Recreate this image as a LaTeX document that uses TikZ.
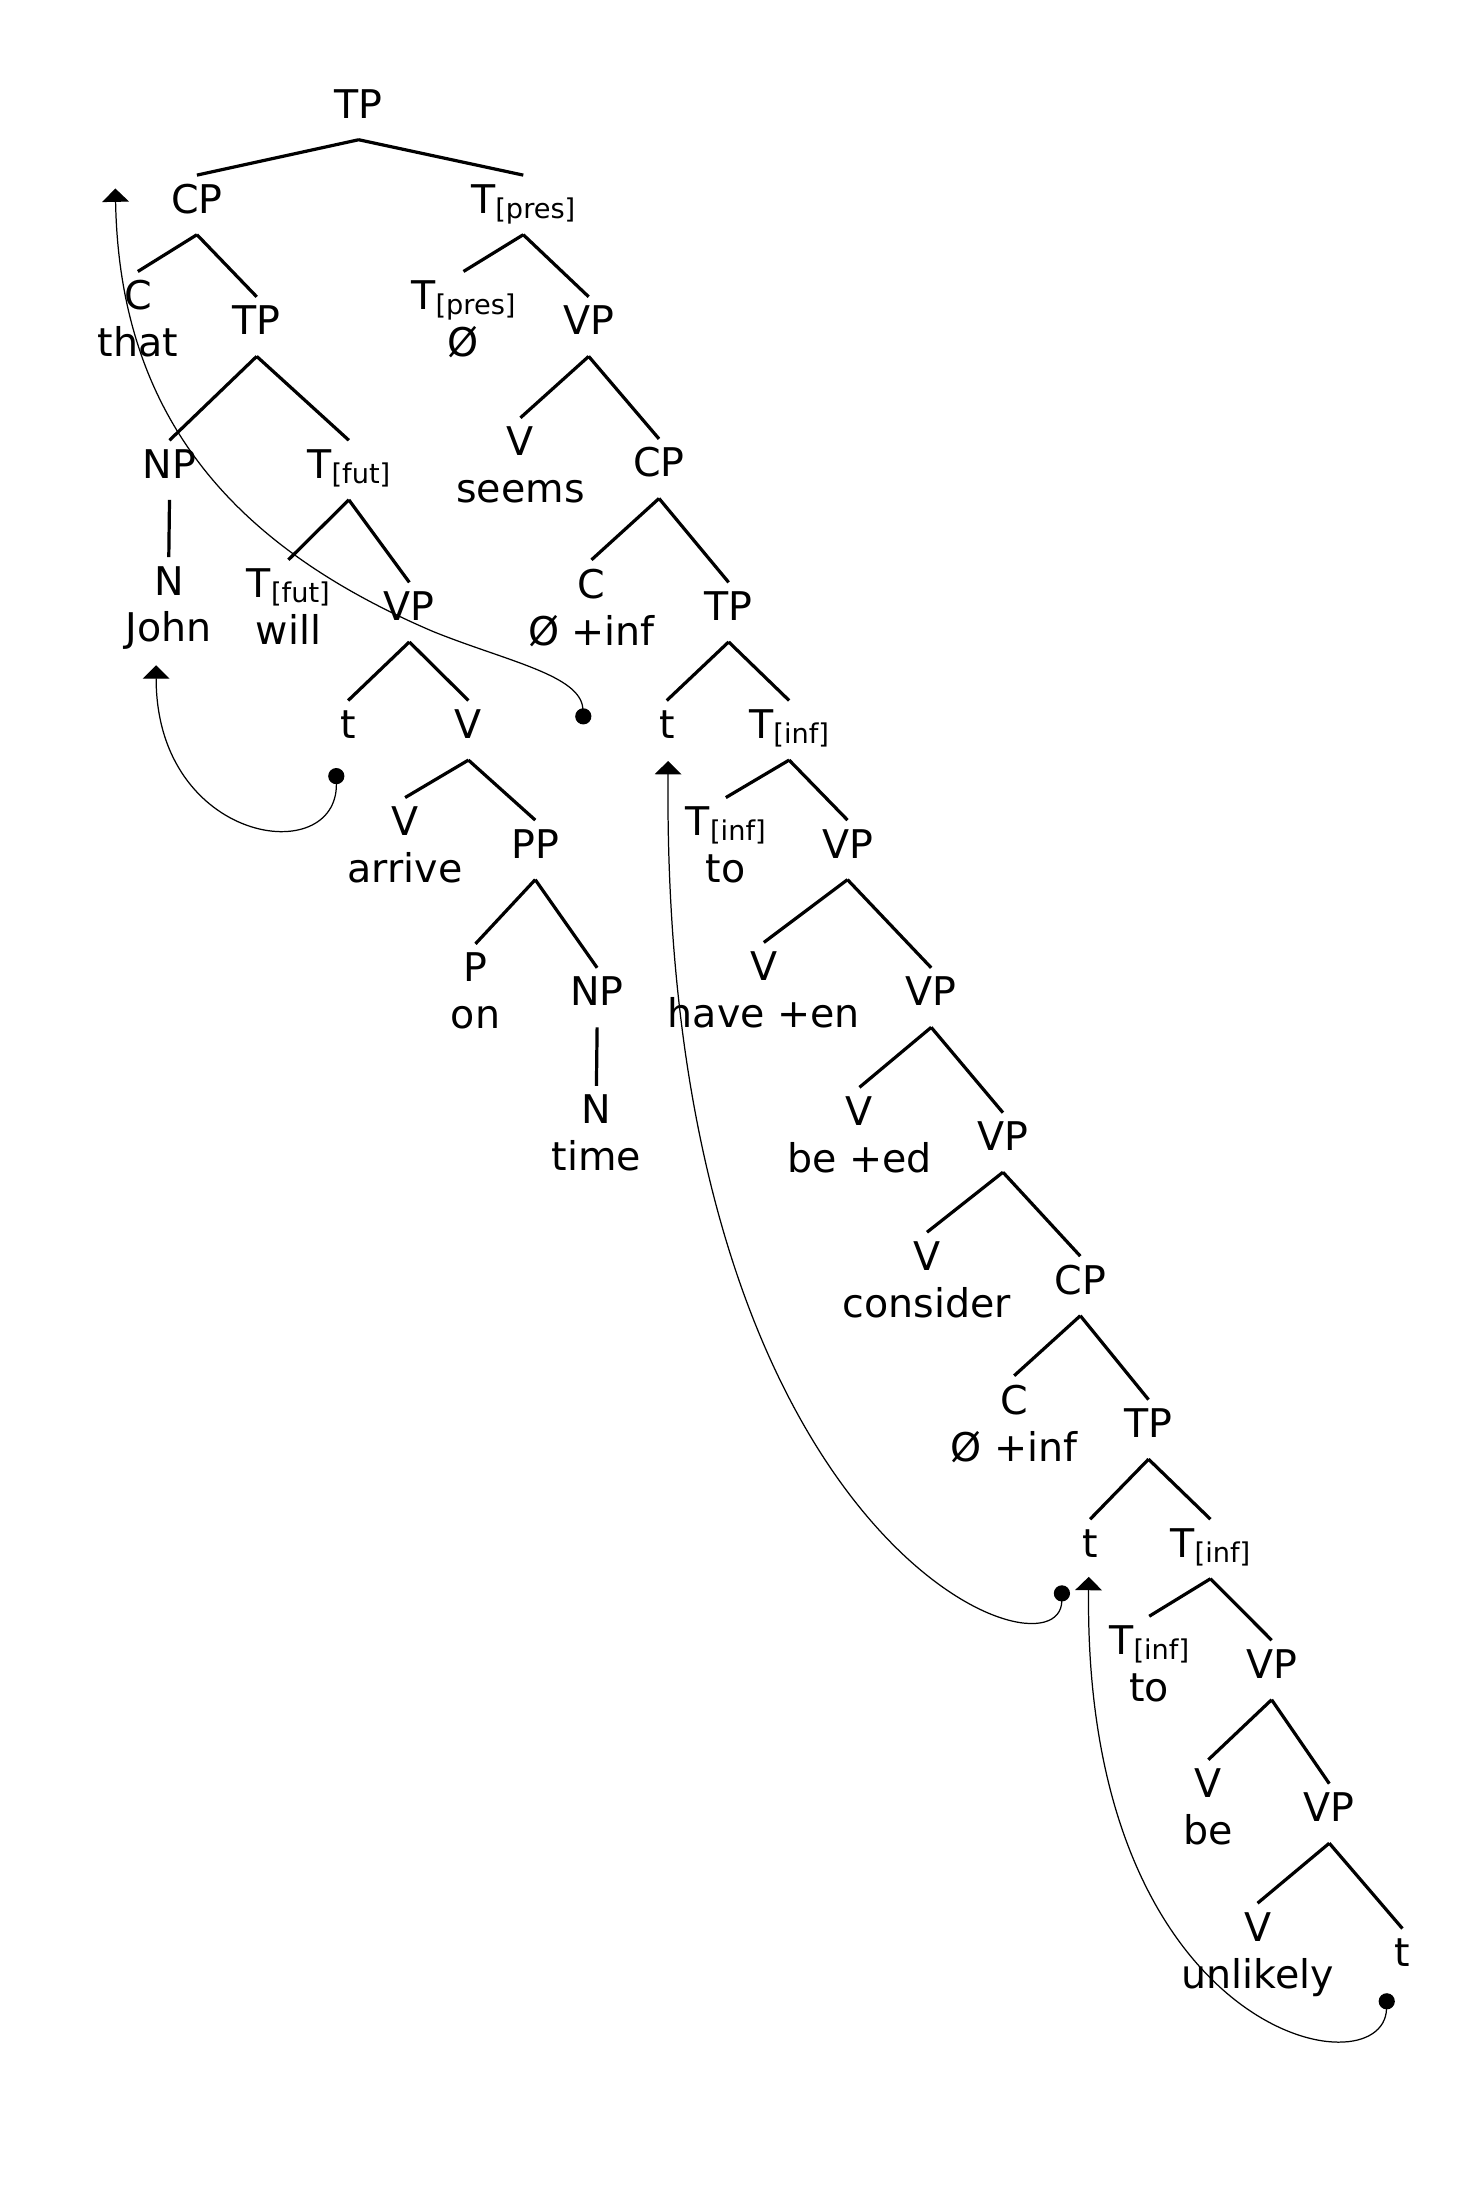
\documentclass[tikz,border=0pt]{standalone}
\usepackage{fontspec}
\setmainfont{DejaVu Sans}
\usetikzlibrary{arrows.meta}
\newcommand{\tsub}[1]{\raisebox{-2pt}{\fontsize{11}{11}\selectfont #1}}

\begin{document}
\begin{tikzpicture}[font=\fontsize{16}{19}\selectfont,
    cat/.style={anchor=north, inner xsep=1pt, inner ysep=3.5pt, text height=11.7pt, text depth=5pt},
    leaf/.style={anchor=north, inner xsep=1pt, inner ysep=3.5pt, align=center},
    branch/.style={line width=1.3pt},
    move/.style={line width=0.5pt, {Circle[length=0.23cm]}-{Triangle[width=0.38cm,length=0.19cm]}}]
            \useasboundingbox (0,0) rectangle (21,-31.337);
            % matrix clause
            \node[cat] (tp0) at (5.10,-1.14) {TP};
            \node[cat] (cp1) at (2.80,-2.49) {CP};
            \node[cat] (tpres1) at (7.44,-2.49) {T\tsub{[pres]}};
            \node[leaf] (c1) at (1.96,-3.86) {C\\that};
            \node[cat] (tp2) at (3.65,-4.22) {TP};
            \node[leaf] (tpres2) at (6.59,-3.86) {T\tsub{[pres]}\\Ø};
            \node[cat] (vp1) at (8.37,-4.22) {VP};
            \node[cat] (np1) at (2.41,-6.26) {NP};
            \node[cat] (tfut1) at (4.96,-6.26) {T\tsub{[fut]}};
            \node[leaf] (v1) at (7.40,-5.94) {V\\seems};
            \node[cat] (cp2) at (9.37,-6.24) {CP};
            \node[leaf] (n1) at (2.40,-7.92) {N\\John};
            \node[leaf] (tfut2) at (4.10,-7.96) {T\tsub{[fut]}\\will};
            \node[cat] (vp2) at (5.82,-8.28) {VP};
            \node[leaf] (c2) at (8.41,-7.96) {C\\Ø +inf};
            \node[cat] (tp3) at (10.36,-8.28) {TP};
            \node[cat] (t1) at (4.95,-9.96) {t};
            \node[cat] (v2) at (6.66,-9.96) {V};
            \node[cat] (t2) at (9.48,-9.96) {t};
            \node[cat] (tinf1) at (11.22,-9.96) {T\tsub{[inf]}};
            \node[leaf] (v3) at (5.76,-11.34) {V\\arrive};
            \node[cat] (pp) at (7.61,-11.66) {PP};
            \node[leaf] (tinf2) at (10.32,-11.34) {T\tsub{[inf]}\\to};
            \node[cat] (vp3) at (12.05,-11.66) {VP};
            \node[leaf] (p) at (6.76,-13.42) {P\\on};
            \node[cat] (np2) at (8.49,-13.76) {NP};
            \node[leaf] (v4) at (10.86,-13.40) {V\\have +en};
            \node[cat] (vp4) at (13.24,-13.76) {VP};
            \node[leaf] (n2) at (8.48,-15.44) {N\\time};
            \node[leaf] (v5) at (12.22,-15.46) {V\\be +ed};
            \node[cat] (vp5) at (14.26,-15.82) {VP};
            \node[leaf] (v6) at (13.18,-17.52) {V\\consider};
            \node[cat] (cp3) at (15.36,-17.86) {CP};
            % embedded clause
            \node[leaf] (c3) at (14.42,-19.56) {C\\Ø +inf};
            \node[cat] (tp4) at (16.33,-19.90) {TP};
            \node[cat] (t3) at (15.50,-21.60) {t};
            \node[cat] (tinf3) at (17.21,-21.60) {T\tsub{[inf]}};
            \node[leaf] (tinf4) at (16.34,-22.98) {T\tsub{[inf]}\\to};
            \node[cat] (vp6) at (18.08,-23.32) {VP};
            \node[leaf] (v7) at (17.18,-25.02) {V\\be};
            \node[cat] (vp7) at (18.90,-25.36) {VP};
            \node[leaf] (v8) at (17.88,-27.06) {V\\unlikely};
            \node[cat] (t4) at (19.94,-27.42) {t};

            \draw[branch] (tp0.south) -- (cp1.north) (tp0.south) -- (tpres1.north);
            \draw[branch] (cp1.south) -- (c1.north) (cp1.south) -- (tp2.north);
            \draw[branch] (tpres1.south) -- (tpres2.north) (tpres1.south) -- (vp1.north);
            \draw[branch] (tp2.south) -- (np1.north) (tp2.south) -- (tfut1.north);
            \draw[branch] (vp1.south) -- (v1.north) (vp1.south) -- (cp2.north);
            \draw[branch] (np1.south) -- (n1.north);
            \draw[branch] (tfut1.south) -- (tfut2.north) (tfut1.south) -- (vp2.north);
            \draw[branch] (cp2.south) -- (c2.north) (cp2.south) -- (tp3.north);
            \draw[branch] (vp2.south) -- (t1.north) (vp2.south) -- (v2.north);
            \draw[branch] (tp3.south) -- (t2.north) (tp3.south) -- (tinf1.north);
            \draw[branch] (v2.south) -- (v3.north) (v2.south) -- (pp.north);
            \draw[branch] (tinf1.south) -- (tinf2.north) (tinf1.south) -- (vp3.north);
            \draw[branch] (pp.south) -- (p.north) (pp.south) -- (np2.north);
            \draw[branch] (vp3.south) -- (v4.north) (vp3.south) -- (vp4.north);
            \draw[branch] (np2.south) -- (n2.north);
            \draw[branch] (vp4.south) -- (v5.north) (vp4.south) -- (vp5.north);
            \draw[branch] (vp5.south) -- (v6.north) (vp5.south) -- (cp3.north);
            \draw[branch] (cp3.south) -- (c3.north) (cp3.south) -- (tp4.north);
            \draw[branch] (tp4.south) -- (t3.north) (tp4.south) -- (tinf3.north);
            \draw[branch] (tinf3.south) -- (tinf4.north) (tinf3.south) -- (vp6.north);
            \draw[branch] (vp6.south) -- (v7.north) (vp6.south) -- (vp7.north);
            \draw[branch] (vp7.south) -- (v8.north) (vp7.south) -- (t4.north);

            % movement
            \coordinate (m1) at (4.78,-10.92);
            \coordinate (g1) at (2.22,-9.46);
            \coordinate (m2) at (8.30,-10.30);
            \coordinate (g2) at (1.64,-2.68);
            \coordinate (m3) at (15.10,-22.54);
            \coordinate (g3) at (9.50,-10.82);
            \coordinate (m4) at (19.72,-28.34);
            \coordinate (g4) at (15.48,-22.42);
            \draw[move] (m1) .. controls (4.80,-12.36) and (2.22,-12.00) .. (g1);
            \draw[move] (m2) .. controls (8.26,-9.60) and (7.20,-9.40) .. (6.16,-8.98)
                .. controls (3.40,-7.80) and (1.70,-6.00) .. (g2);
            \draw[move] (m3) .. controls (15.08,-24.00) and (9.40,-22.00) .. (g3);
            \draw[move] (m4) .. controls (19.68,-29.76) and (15.40,-29.00) .. (g4);
        \end{tikzpicture}
\end{document}
